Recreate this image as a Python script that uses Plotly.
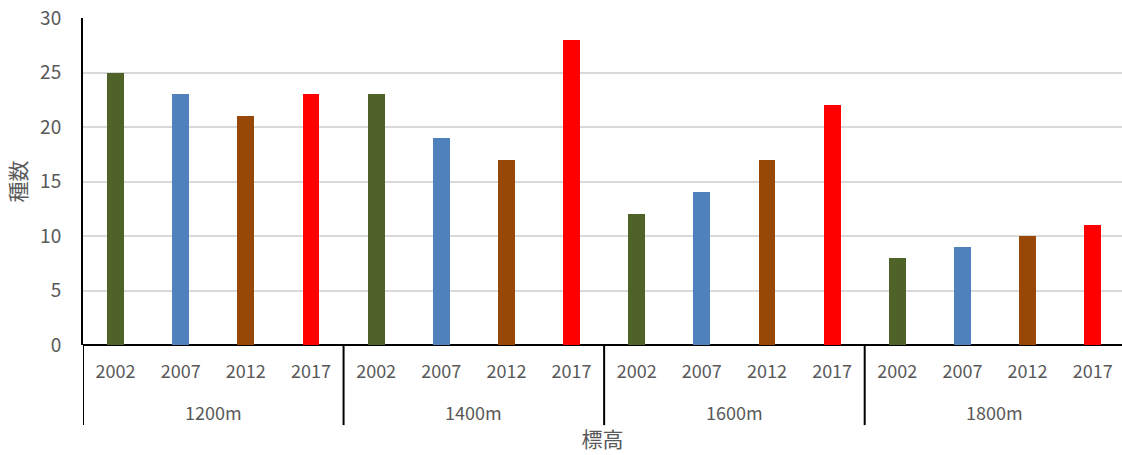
import plotly.graph_objects as go

# Survey data: species count by elevation band and survey year
elevations = ["1200m", "1400m", "1600m", "1800m"]
years = ["2002", "2007", "2012", "2017"]
counts_2002 = [25, 23, 12, 8]
counts_2007 = [23, 19, 14, 9]
counts_2012 = [21, 17, 17, 10]
counts_2017 = [23, 28, 22, 11]

series = {
    "2002": counts_2002,
    "2007": counts_2007,
    "2012": counts_2012,
    "2017": counts_2017,
}
colors = {"2002": "#4F6228", "2007": "#4F81BD", "2012": "#974706", "2017": "#FF0000"}

FONT = "Noto Sans CJK JP, Open Sans, sans-serif"
TXT = "#595959"

n_years = len(years)
fig = go.Figure()
for j, yr in enumerate(years):
    xs = [i * n_years + j for i in range(len(elevations))]
    fig.add_trace(go.Bar(
        x=xs, y=series[yr], name=yr,
        marker=dict(color=colors[yr], line=dict(width=0)),
        width=0.26,
    ))

n_cat = n_years * len(elevations)
tickvals = list(range(n_cat))
ticktext = [years[k % n_years] for k in tickvals]

shapes = []
# group dividers below the axis (left edge and between groups)
for b in range(len(elevations)):
    xb = b * n_years - 0.5
    shapes.append(dict(type="line", xref="x", yref="paper", x0=xb, x1=xb,
                       y0=0, y1=-0.245, line=dict(color="#000000", width=2)))

annotations = []
for i, el in enumerate(elevations):
    annotations.append(dict(x=i * n_years + (n_years - 1) / 2, y=-0.205, xref="x", yref="paper",
                            text=el, showarrow=False, yanchor="middle",
                            font=dict(family=FONT, size=18, color=TXT)))

fig.update_layout(
    width=1122, height=455,
    margin=dict(l=83, r=0, t=18, b=110),
    plot_bgcolor="white", paper_bgcolor="white",
    showlegend=False,
    bargap=0,
    barmode="overlay",
    shapes=shapes,
    annotations=annotations,
    xaxis=dict(
        range=[-0.5, n_cat - 0.55],
        tickmode="array", tickvals=tickvals, ticktext=ticktext,
        showgrid=False, zeroline=False, showline=False, ticks="",
        ticklabelstandoff=14,
        tickfont=dict(family=FONT, size=18, color=TXT),
        title=dict(text="標高", font=dict(family=FONT, size=21, color=TXT), standoff=50),
    ),
    yaxis=dict(
        range=[0, 30], dtick=5,
        showgrid=True, gridcolor="#D9D9D9", gridwidth=2,
        zeroline=True, zerolinecolor="#000000", zerolinewidth=2,
        showline=True, linecolor="#000000", linewidth=2,
        ticks="", ticklabelstandoff=16,
        tickfont=dict(family=FONT, size=19, color=TXT),
        title=dict(text="種数", font=dict(family=FONT, size=21, color=TXT), standoff=8),
    ),
)

fig.write_html("out.html")
